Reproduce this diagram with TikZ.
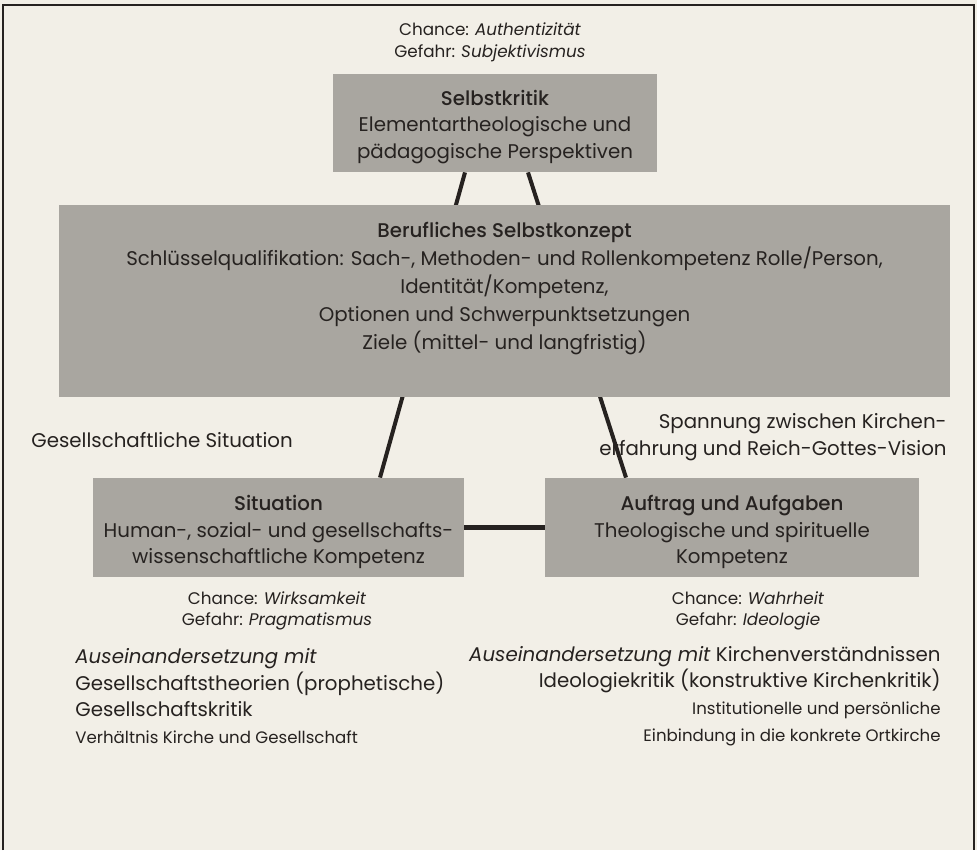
\documentclass[tikz,border=0pt]{standalone}
\usepackage{fontspec}
\setmainfont{Poppins}[BoldFont={Poppins Medium}]
\usetikzlibrary{backgrounds}

\definecolor{paper}{RGB}{242,239,231}
\definecolor{boxgray}{RGB}{169,166,160}
\definecolor{ink}{RGB}{38,34,32}
\newcommand\smalltxt{\fontsize{8.3}{13}\selectfont}

\begin{document}
\begin{tikzpicture}[x=0.5pt,y=-0.5pt,
    graybox/.style={fill=boxgray, draw=none, inner sep=0pt},
    boxtext/.style={text=ink, align=center, inner sep=0pt,
      font=\fontsize{9.9}{13.4}\selectfont},
    note/.style={text=ink, align=center, inner sep=0pt,
      font=\fontsize{8.4}{10.8}\selectfont},
    link/.style={draw=ink, line width=2pt}]
      % \draw[help lines] (0,0) grid[step=50] (977,850);
      \useasboundingbox (0,0) rectangle (977,850);

      % top: Selbstkritik
      \node[note] (chance-top) at (490,42) {Chance: \textit{Authentizität}\\Gefahr: \textit{Subjektivismus}};
      \node[graybox, minimum width=162pt, minimum height=49pt] (selbstkritik) at (495,123) {};
      \node[boxtext] (selbstkritik-txt) at (495,127) {\textbf{Selbstkritik}\\Elementartheologische und\\pädagogische Perspektiven};

      % middle: berufliches Selbstkonzept
      \node[graybox, minimum width=445.5pt, minimum height=96pt] (konzept) at (504.5,301) {};
      \node[boxtext, font=\fontsize{9.9}{14}\selectfont] (konzept-txt) at (504.5,289) {\textbf{Berufliches Selbstkonzept}\\Schlüsselqualifikation: Sach-, Methoden- und Rollenkompetenz Rolle/Person,\\Identität/Kompetenz,\\Optionen und Schwerpunktsetzungen\\Ziele (mittel- und langfristig)};

      \node[boxtext, anchor=west] (gesellschaft) at (31,440) {Gesellschaftliche Situation};
      \node[boxtext, align=right, anchor=east] (spannung) at (947,437) {Spannung zwischen Kirchen-\\erfahrung und Reich-Gottes-Vision};

      % bottom left: Situation
      \node[graybox, minimum width=185.5pt, minimum height=49.5pt] (situation) at (278.5,527.5) {};
      \node[boxtext] (situation-txt) at (278.5,532) {\textbf{Situation}\\Human-, sozial- und gesellschafts-\\wissenschaftliche Kompetenz};
      \node[note] (chance-l) at (277,611) {Chance: \textit{Wirksamkeit}\\Gefahr: \textit{Pragmatismus}};

      % bottom right: Auftrag
      \node[graybox, minimum width=187pt, minimum height=49.5pt] (auftrag) at (732,527.5) {};
      \node[boxtext] (auftrag-txt) at (732,532) {\textbf{Auftrag und Aufgaben}\\Theologische und spirituelle\\Kompetenz};
      \node[note] (chance-r) at (748,611) {Chance: \textit{Wahrheit}\\Gefahr: \textit{Ideologie}};

      \node[boxtext, align=left, anchor=west] (ause-l) at (75,696) {\textit{Auseinandersetzung mit}\\Gesellschaftstheorien (prophetische)\\Gesellschaftskritik\\{\smalltxt Verhältnis Kirche und Gesellschaft}};
      \node[boxtext, align=right, anchor=east] (ause-r) at (941,696) {\textit{Auseinandersetzung mit} Kirchenverständnissen\\Ideologiekritik (konstruktive Kirchenkritik)\\{\smalltxt Institutionelle und persönliche}\\{\smalltxt Einbindung in die konkrete Ortkirche}};

      \begin{scope}[on background layer]
        \fill[paper] (0,0) rectangle (977,850);
        \draw[ink, line width=1pt] (3,850) -- (3,5) -- (974,5) -- (974,850);
        \draw[link] ([xshift=-15pt]selbstkritik.south) -- ([xshift=50.75pt]situation.north);
        \draw[link] ([xshift=16.5pt]selbstkritik.south) -- ([xshift=-53pt]auftrag.north);
      \end{scope}
      \draw[link, line width=2.6pt] (situation.east) -- (auftrag.west);
    \end{tikzpicture}
\end{document}
